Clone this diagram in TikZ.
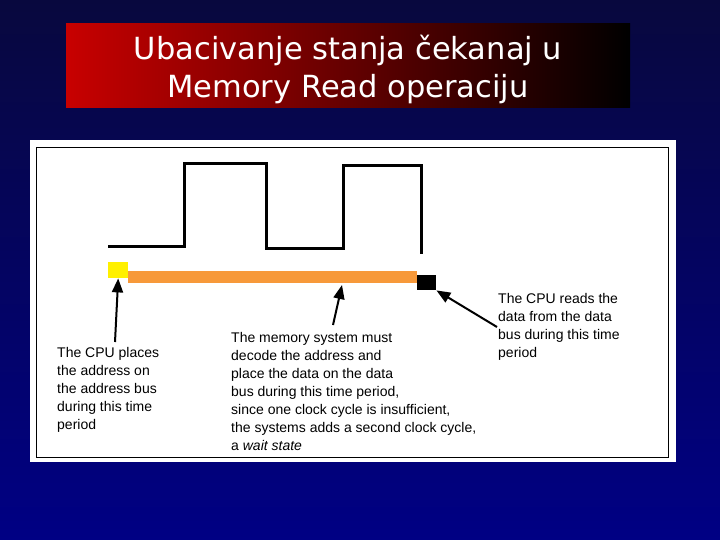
\documentclass[tikz,border=0pt]{standalone}
\usepackage{fontspec}
\setmainfont{Liberation Sans}
\newfontfamily\titlefont{DejaVu Sans}
\usetikzlibrary{arrows.meta}
\definecolor{bgtop}{RGB}{8,8,62}
\definecolor{bgbot}{RGB}{0,0,132}
\definecolor{titlered}{RGB}{200,0,0}
\definecolor{barorange}{RGB}{247,153,58}
\definecolor{addryellow}{RGB}{255,240,0}
\begin{document}
\begin{tikzpicture}[x=1pt,y=-1pt,
  note/.style={anchor=north west,inner sep=0pt,align=left,font=\fontsize{14}{18}\selectfont},
  ptr/.style={line width=2pt,-{Triangle[length=14pt,width=11pt]}},
  clock/.style={line width=3pt}]
\useasboundingbox (0,0) rectangle (720,540);
\shade[top color=bgtop,bottom color=bgbot] (0,0) rectangle (720,540);
% title
\shade[left color=titlered,right color=black] (66,24) rectangle (630,108);
\node[text=white,align=center,font=\titlefont\fontsize{30.5}{38}\selectfont] (title) at (348,69)
  {Ubacivanje stanja čekanaj u\\Memory Read operaciju};
% panel
\fill[white] (30,140) rectangle (676,462);
\draw[line width=1pt] (36,148) rectangle (668,457);
% clock
\draw[clock] (108,246) -- (184,246) -- (184,164) -- (266,164) -- (266,248)
  -- (343,248) -- (343,166) -- (421,166) -- (421,254);
% bus periods
\node[fill=addryellow,minimum width=20pt,minimum height=16pt,inner sep=0pt,anchor=north west] (ys) at (108,262) {};
\node[fill=barorange,minimum width=289pt,minimum height=12pt,inner sep=0pt,anchor=north west] (bar) at (128,271) {};
\node[fill=black,minimum width=19pt,minimum height=15pt,inner sep=0pt,anchor=north west] (bs) at (417,275) {};
% texts
\node[note] (t1) at (57,347) {The CPU places\\the address on\\the address bus\\during this time\\period};
\node[note] (t2) at (231,332) {The memory system must\\decode the address and\\place the data on the data\\bus during this time period,\\since one clock cycle is insufficient,\\the systems adds a second clock cycle,\\a \textit{wait state}};
\node[note] (t3) at (498,293) {The CPU reads the\\data from the data\\bus during this time\\period};
% pointers
\coordinate (p1) at (115,342);
\coordinate (p2) at (333,325);
\coordinate (p3) at (497,327);
\coordinate (q2) at (342,285);
\draw[ptr] (p1) -- (ys.south);
\draw[ptr] (p2) -- (q2);
\draw[ptr] (p3) -- (bs.south east);
\end{tikzpicture}
\end{document}
